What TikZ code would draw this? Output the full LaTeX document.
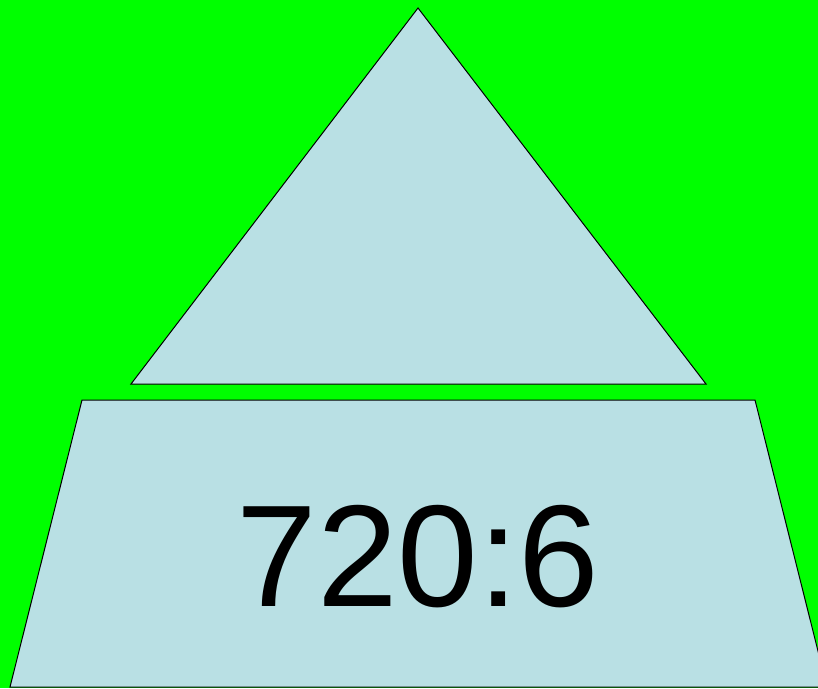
\documentclass[tikz,border=0pt]{standalone}
\usepackage{fontspec}
\setmainfont{Liberation Sans}
\usetikzlibrary{positioning}
\definecolor{bggreen}{RGB}{0,255,0}
\definecolor{paleblue}{RGB}{185,224,228}
\tikzset{
  block/.style={draw=black,line width=1pt,fill=paleblue,line join=miter},
  bigtext/.style={font=\fontsize{145}{145}\selectfont,inner sep=0pt,anchor=base}
}
\begin{document}
\begin{tikzpicture}[x=1pt,y=-1pt]
  % canvas
  \useasboundingbox (0,0) rectangle (818,688);
  \clip (0,0) rectangle (818,688);
  \fill[bggreen] (0,0) rectangle (818,688);
  % triangle on top
  \draw[block] (418,8) -- (706,384) -- (131,384) -- cycle;
  % trapezoid base
  \draw[block] (82,400) -- (755,400) -- (827,687) -- (10,687) -- cycle;
  \node[bigtext] (ratio) at (418,606) {720:6};
\end{tikzpicture}
\end{document}
